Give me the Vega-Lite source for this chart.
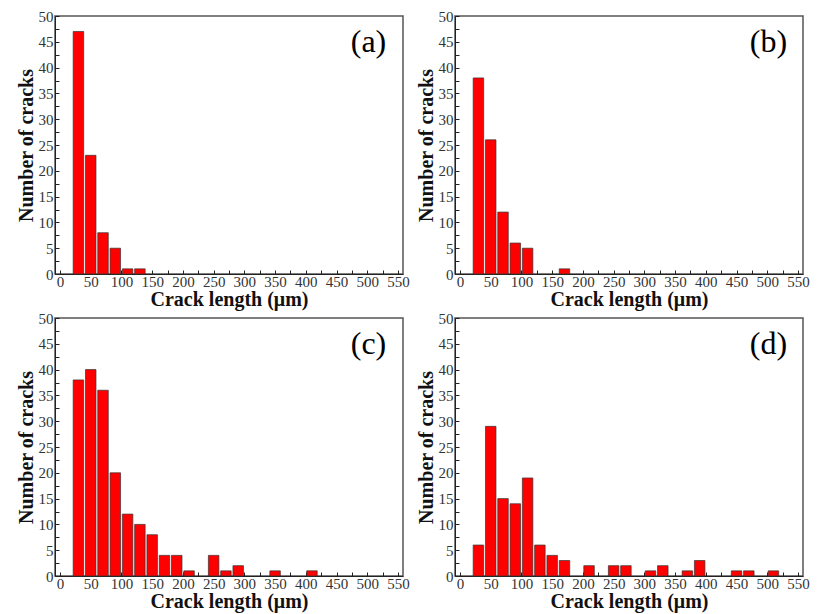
{
  "$schema": "https://vega.github.io/schema/vega-lite/v6.json",
  "padding": {"left": 15, "top": 8, "right": 2, "bottom": 2},
  "background": "white",
  "datasets": {
    "cracks": [
      {"panel": "a", "length": 30, "count": 47},
      {"panel": "a", "length": 50, "count": 23},
      {"panel": "a", "length": 70, "count": 8},
      {"panel": "a", "length": 90, "count": 5},
      {"panel": "a", "length": 110, "count": 1},
      {"panel": "a", "length": 130, "count": 1},
      {"panel": "b", "length": 30, "count": 38},
      {"panel": "b", "length": 50, "count": 26},
      {"panel": "b", "length": 70, "count": 12},
      {"panel": "b", "length": 90, "count": 6},
      {"panel": "b", "length": 110, "count": 5},
      {"panel": "b", "length": 170, "count": 1},
      {"panel": "c", "length": 30, "count": 38},
      {"panel": "c", "length": 50, "count": 40},
      {"panel": "c", "length": 70, "count": 36},
      {"panel": "c", "length": 90, "count": 20},
      {"panel": "c", "length": 110, "count": 12},
      {"panel": "c", "length": 130, "count": 10},
      {"panel": "c", "length": 150, "count": 8},
      {"panel": "c", "length": 170, "count": 4},
      {"panel": "c", "length": 190, "count": 4},
      {"panel": "c", "length": 210, "count": 1},
      {"panel": "c", "length": 250, "count": 4},
      {"panel": "c", "length": 270, "count": 1},
      {"panel": "c", "length": 290, "count": 2},
      {"panel": "c", "length": 350, "count": 1},
      {"panel": "c", "length": 410, "count": 1},
      {"panel": "d", "length": 30, "count": 6},
      {"panel": "d", "length": 50, "count": 29},
      {"panel": "d", "length": 70, "count": 15},
      {"panel": "d", "length": 90, "count": 14},
      {"panel": "d", "length": 110, "count": 19},
      {"panel": "d", "length": 130, "count": 6},
      {"panel": "d", "length": 150, "count": 4},
      {"panel": "d", "length": 170, "count": 3},
      {"panel": "d", "length": 210, "count": 2},
      {"panel": "d", "length": 250, "count": 2},
      {"panel": "d", "length": 270, "count": 2},
      {"panel": "d", "length": 310, "count": 1},
      {"panel": "d", "length": 330, "count": 2},
      {"panel": "d", "length": 370, "count": 1},
      {"panel": "d", "length": 390, "count": 3},
      {"panel": "d", "length": 450, "count": 1},
      {"panel": "d", "length": 470, "count": 1},
      {"panel": "d", "length": 510, "count": 1}
    ]
  },
  "vconcat": [
    {
      "hconcat": [
        {
          "width": 348, "height": 258,
          "layer": [
            {
              "data": {"name": "cracks"},
              "transform": [{"filter": "datum.panel === 'a'"}],
              "mark": {"type": "bar", "size": 10.5, "color": "#ff0000", "stroke": "#333333", "strokeWidth": 0.7},
              "encoding": {
                "x": {"field": "length", "type": "quantitative", "scale": {"domain": [0, 550], "nice": false}, "title": "Crack length (μm)",
                  "axis": {"values": [0, 25, 50, 75, 100, 125, 150, 175, 200, 225, 250, 275, 300, 325, 350, 375, 400, 425, 450, 475, 500, 525, 550], "labelExpr": "datum.value % 50 === 0 ? datum.label : ''", "labelOverlap": false}},
                "y": {"field": "count", "type": "quantitative", "scale": {"domain": [0, 50], "nice": false}, "title": "Number of cracks",
                  "axis": {"values": [0, 2.5, 5, 7.5, 10, 12.5, 15, 17.5, 20, 22.5, 25, 27.5, 30, 32.5, 35, 37.5, 40, 42.5, 45, 47.5, 50], "labelExpr": "datum.value % 5 === 0 ? datum.label : ''", "labelOverlap": false}}
              }
            },
            {
              "data": {"values": [{}]},
              "mark": {"type": "text", "font": "Liberation Serif", "fontSize": 32, "align": "center", "baseline": "middle", "color": "black"},
              "encoding": {
                "x": {"datum": 502, "type": "quantitative", "title": "Crack length (μm)",
                  "axis": {"values": [0, 25, 50, 75, 100, 125, 150, 175, 200, 225, 250, 275, 300, 325, 350, 375, 400, 425, 450, 475, 500, 525, 550], "labelExpr": "datum.value % 50 === 0 ? datum.label : ''", "labelOverlap": false}},
                "y": {"datum": 45, "type": "quantitative", "title": "Number of cracks",
                  "axis": {"values": [0, 2.5, 5, 7.5, 10, 12.5, 15, 17.5, 20, 22.5, 25, 27.5, 30, 32.5, 35, 37.5, 40, 42.5, 45, 47.5, 50], "labelExpr": "datum.value % 5 === 0 ? datum.label : ''", "labelOverlap": false}},
                "text": {"value": "(a)"}}
            }
          ]
        },
        {
          "width": 348, "height": 258,
          "layer": [
            {
              "data": {"name": "cracks"},
              "transform": [{"filter": "datum.panel === 'b'"}],
              "mark": {"type": "bar", "size": 10.5, "color": "#ff0000", "stroke": "#333333", "strokeWidth": 0.7},
              "encoding": {
                "x": {"field": "length", "type": "quantitative", "scale": {"domain": [0, 550], "nice": false}, "title": "Crack length (μm)",
                  "axis": {"values": [0, 25, 50, 75, 100, 125, 150, 175, 200, 225, 250, 275, 300, 325, 350, 375, 400, 425, 450, 475, 500, 525, 550], "labelExpr": "datum.value % 50 === 0 ? datum.label : ''", "labelOverlap": false}},
                "y": {"field": "count", "type": "quantitative", "scale": {"domain": [0, 50], "nice": false}, "title": "Number of cracks",
                  "axis": {"values": [0, 2.5, 5, 7.5, 10, 12.5, 15, 17.5, 20, 22.5, 25, 27.5, 30, 32.5, 35, 37.5, 40, 42.5, 45, 47.5, 50], "labelExpr": "datum.value % 5 === 0 ? datum.label : ''", "labelOverlap": false}}
              }
            },
            {
              "data": {"values": [{}]},
              "mark": {"type": "text", "font": "Liberation Serif", "fontSize": 32, "align": "center", "baseline": "middle", "color": "black"},
              "encoding": {
                "x": {"datum": 502, "type": "quantitative", "title": "Crack length (μm)",
                  "axis": {"values": [0, 25, 50, 75, 100, 125, 150, 175, 200, 225, 250, 275, 300, 325, 350, 375, 400, 425, 450, 475, 500, 525, 550], "labelExpr": "datum.value % 50 === 0 ? datum.label : ''", "labelOverlap": false}},
                "y": {"datum": 45, "type": "quantitative", "title": "Number of cracks",
                  "axis": {"values": [0, 2.5, 5, 7.5, 10, 12.5, 15, 17.5, 20, 22.5, 25, 27.5, 30, 32.5, 35, 37.5, 40, 42.5, 45, 47.5, 50], "labelExpr": "datum.value % 5 === 0 ? datum.label : ''", "labelOverlap": false}},
                "text": {"value": "(b)"}}
            }
          ]
        }
      ]
    },
    {
      "hconcat": [
        {
          "width": 348, "height": 258,
          "layer": [
            {
              "data": {"name": "cracks"},
              "transform": [{"filter": "datum.panel === 'c'"}],
              "mark": {"type": "bar", "size": 10.5, "color": "#ff0000", "stroke": "#333333", "strokeWidth": 0.7},
              "encoding": {
                "x": {"field": "length", "type": "quantitative", "scale": {"domain": [0, 550], "nice": false}, "title": "Crack length (μm)",
                  "axis": {"values": [0, 25, 50, 75, 100, 125, 150, 175, 200, 225, 250, 275, 300, 325, 350, 375, 400, 425, 450, 475, 500, 525, 550], "labelExpr": "datum.value % 50 === 0 ? datum.label : ''", "labelOverlap": false}},
                "y": {"field": "count", "type": "quantitative", "scale": {"domain": [0, 50], "nice": false}, "title": "Number of cracks",
                  "axis": {"values": [0, 2.5, 5, 7.5, 10, 12.5, 15, 17.5, 20, 22.5, 25, 27.5, 30, 32.5, 35, 37.5, 40, 42.5, 45, 47.5, 50], "labelExpr": "datum.value % 5 === 0 ? datum.label : ''", "labelOverlap": false}}
              }
            },
            {
              "data": {"values": [{}]},
              "mark": {"type": "text", "font": "Liberation Serif", "fontSize": 32, "align": "center", "baseline": "middle", "color": "black"},
              "encoding": {
                "x": {"datum": 502, "type": "quantitative", "title": "Crack length (μm)",
                  "axis": {"values": [0, 25, 50, 75, 100, 125, 150, 175, 200, 225, 250, 275, 300, 325, 350, 375, 400, 425, 450, 475, 500, 525, 550], "labelExpr": "datum.value % 50 === 0 ? datum.label : ''", "labelOverlap": false}},
                "y": {"datum": 45, "type": "quantitative", "title": "Number of cracks",
                  "axis": {"values": [0, 2.5, 5, 7.5, 10, 12.5, 15, 17.5, 20, 22.5, 25, 27.5, 30, 32.5, 35, 37.5, 40, 42.5, 45, 47.5, 50], "labelExpr": "datum.value % 5 === 0 ? datum.label : ''", "labelOverlap": false}},
                "text": {"value": "(c)"}}
            }
          ]
        },
        {
          "width": 348, "height": 258,
          "layer": [
            {
              "data": {"name": "cracks"},
              "transform": [{"filter": "datum.panel === 'd'"}],
              "mark": {"type": "bar", "size": 10.5, "color": "#ff0000", "stroke": "#333333", "strokeWidth": 0.7},
              "encoding": {
                "x": {"field": "length", "type": "quantitative", "scale": {"domain": [0, 550], "nice": false}, "title": "Crack length (μm)",
                  "axis": {"values": [0, 25, 50, 75, 100, 125, 150, 175, 200, 225, 250, 275, 300, 325, 350, 375, 400, 425, 450, 475, 500, 525, 550], "labelExpr": "datum.value % 50 === 0 ? datum.label : ''", "labelOverlap": false}},
                "y": {"field": "count", "type": "quantitative", "scale": {"domain": [0, 50], "nice": false}, "title": "Number of cracks",
                  "axis": {"values": [0, 2.5, 5, 7.5, 10, 12.5, 15, 17.5, 20, 22.5, 25, 27.5, 30, 32.5, 35, 37.5, 40, 42.5, 45, 47.5, 50], "labelExpr": "datum.value % 5 === 0 ? datum.label : ''", "labelOverlap": false}}
              }
            },
            {
              "data": {"values": [{}]},
              "mark": {"type": "text", "font": "Liberation Serif", "fontSize": 32, "align": "center", "baseline": "middle", "color": "black"},
              "encoding": {
                "x": {"datum": 502, "type": "quantitative", "title": "Crack length (μm)",
                  "axis": {"values": [0, 25, 50, 75, 100, 125, 150, 175, 200, 225, 250, 275, 300, 325, 350, 375, 400, 425, 450, 475, 500, 525, 550], "labelExpr": "datum.value % 50 === 0 ? datum.label : ''", "labelOverlap": false}},
                "y": {"datum": 45, "type": "quantitative", "title": "Number of cracks",
                  "axis": {"values": [0, 2.5, 5, 7.5, 10, 12.5, 15, 17.5, 20, 22.5, 25, 27.5, 30, 32.5, 35, 37.5, 40, 42.5, 45, 47.5, 50], "labelExpr": "datum.value % 5 === 0 ? datum.label : ''", "labelOverlap": false}},
                "text": {"value": "(d)"}}
            }
          ]
        }
      ]
    }
  ],
  "spacing": 0,
  "config": {
    "concat": {"spacing": 5},
    "view": {"stroke": "#555555", "strokeWidth": 1.5},
    "axis": {
      "grid": false,
      "domainColor": "#222222",
      "domainWidth": 1,
      "tickColor": "#222222",
      "labelFont": "Liberation Serif",
      "labelFontSize": 15,
      "labelColor": "#333333",
      "labelOverlap": false,
      "titleFont": "Liberation Serif",
      "titleFontSize": 20,
      "titleFontWeight": "bold",
      "titleColor": "#111111"
    },
    "axisX": {
      "tickSize": -4,
      "labelPadding": 4,
      "labelFlush": false,
      "titlePadding": 0
    },
    "axisY": {
      "tickSize": -4,
      "labelPadding": 6,
      "titlePadding": 2
    }
  }
}
